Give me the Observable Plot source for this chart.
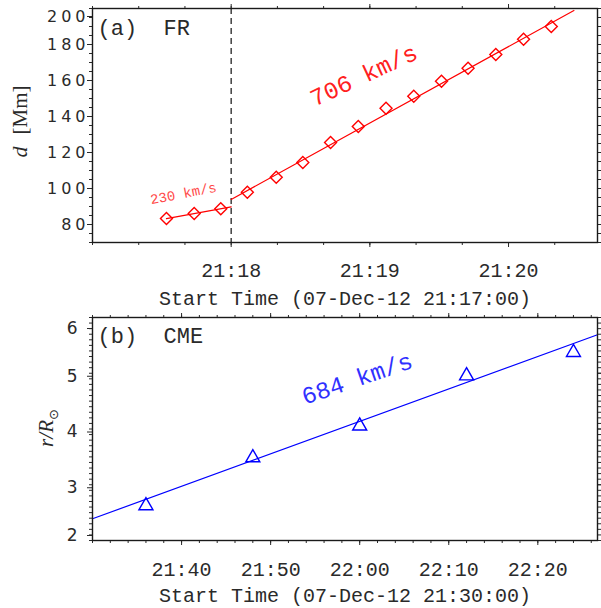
<!DOCTYPE html>
<html><head><meta charset="utf-8">
<script src="https://cdn.jsdelivr.net/npm/d3@7"></script>
<script src="https://cdn.jsdelivr.net/npm/@observablehq/plot@0.6"></script>
<style>
body{margin:0;background:#fff;}
#chart{width:601px;}
#chart svg{display:block;overflow:visible;}
g[aria-label="y-axis tick label"] text{letter-spacing:4px;}
</style></head><body><div id="chart"></div>
<script>
// ---- Panel (a): flux rope height, seconds after 21:17:00 ----
const frTime = [32, 44, 55.5, 67, 79.5, 91, 103, 115, 127, 139, 151, 162.5, 174.5, 186.5, 198.5];
const frDist = [83.3, 86.1, 88.7, 97.9, 106.3, 114.4, 125.6, 134.4, 144.6, 151.3, 159.6, 166.8, 174.4, 182.9, 190.0];
const frSlowFitTime = [32, 60];
const frSlowFitDist = [83.3, 89.8];
const frFastFitTime = [60, 208.3];
const frFastFitDist = [93.9, 198.9];
const frOnsetTime = [60];
const frTickTimes = [60, 120, 180];
const frTickLabels = ["21:18", "21:19", "21:20"];
const frYTicks = [80, 100, 120, 140, 160, 180];
const frYTopTick = [200];

// ---- Panel (b): CME height, minutes after 21:30:00 ----
const cmeTime = [6, 18, 30, 42, 54];
const cmeR = [2.66, 3.52, 4.09, 4.99, 5.41];
const cmeFitTime = [0, 56.7];
const cmeFitR = [2.39, 5.69];
const cmeTickTimes = [10, 20, 30, 40, 50];
const cmeTickLabels = ["21:40", "21:50", "22:00", "22:10", "22:20"];
const cmeYTicks = [3, 4, 5];

// ---- texts ----
const speedLabels = ["230 km/s", "706 km/s", "684 km/s"];
const panelLabels = ["(a)  FR", "(b)  CME"];
const xTitles = ["Start Time (07-Dec-12 21:17:00)", "Start Time (07-Dec-12 21:30:00)"];
const yTitleA = "d [Mm]";
const yTitleB = "r/R⊙";

const ink = "#2a2a2a";
const mono = "'Liberation Mono','Courier New',monospace";
const serif = "'Liberation Serif','DejaVu Serif',serif";
const sans = "'DejaVu Sans',sans-serif";

const zip = (xs, ys) => xs.map((x, i) => ({x, y: ys[i]}));
const blank = () => "";
const intFmt = d => String(d);

function frameTicks(xMajor, xMinor, yMajor, yMinor) {
  return [
    Plot.axisX({anchor: "bottom", ticks: xMinor, tickSize: 3, tickFormat: blank, label: null, stroke: ink}),
    Plot.axisX({anchor: "top", ticks: xMinor, tickSize: 3, tickFormat: blank, label: null, stroke: ink}),
    Plot.axisX({anchor: "top", ticks: xMajor, tickSize: 5, tickFormat: blank, label: null, stroke: ink}),
    Plot.axisY({anchor: "left", ticks: yMinor, tickSize: 3, tickFormat: blank, label: null, stroke: ink}),
    Plot.axisY({anchor: "right", ticks: yMinor, tickSize: 3, tickFormat: blank, label: null, stroke: ink}),
    Plot.axisY({anchor: "right", ticks: yMajor, tickSize: 5, tickFormat: blank, label: null, stroke: ink}),
  ];
}

// ---------- Panel (a) ----------
const topPlot = Plot.plot({
  width: 601, height: 310,
  marginLeft: 92, marginRight: 4, marginTop: 8, marginBottom: 68,
  style: {background: "transparent", color: ink, fontFamily: mono, fontSize: "20px", overflow: "visible"},
  x: {domain: [0, 218.5], label: null},
  y: {domain: [70, 200], label: null},
  marks: [
    ...frameTicks(frTickTimes, d3.range(0, 219, 20), frYTicks.concat(frYTopTick), d3.range(70, 200.1, 5)),
    Plot.axisX({anchor: "bottom", ticks: frTickTimes, tickSize: 5, tickPadding: 15,
      tickFormat: d => frTickLabels[frTickTimes.indexOf(d)], label: null, stroke: ink, fill: ink,
      fontFamily: mono, fontSize: 20}),
    Plot.axisY({anchor: "left", ticks: frYTicks, tickSize: 5, tickPadding: -2, tickFormat: intFmt, label: null,
      stroke: ink, fill: ink, fontFamily: sans, fontSize: 16}),
    Plot.axisY({anchor: "left", ticks: frYTopTick, tickSize: 5, tickPadding: -2, dy: 8, tickFormat: intFmt, label: null,
      stroke: ink, fill: ink, fontFamily: sans, fontSize: 16}),
    Plot.ruleX(frOnsetTime, {stroke: "#333", strokeWidth: 1.4, strokeDasharray: "6,4"}),
    Plot.line(zip(frSlowFitTime, frSlowFitDist), {x: "x", y: "y", stroke: "#ff0000", strokeWidth: 1.2}),
    Plot.line(zip(frFastFitTime, frFastFitDist), {x: "x", y: "y", stroke: "#ff0000", strokeWidth: 1.2}),
    Plot.dot(zip(frTime, frDist), {x: "x", y: "y", symbol: "diamond2", r: 5.4,
      stroke: "#ff0000", strokeWidth: 1.4, fill: "none"}),
    Plot.text([speedLabels[0]], {x: 39.3, y: 97.2, text: d => d, rotate: -11,
      fill: "#ff4a4a", fontFamily: mono, fontSize: 14}),
    Plot.text([speedLabels[1]], {x: 117.4, y: 162.8, text: d => d, rotate: -25,
      fill: "#ff2020", fontFamily: mono, fontSize: 24}),
    Plot.text([panelLabels[0]], {frameAnchor: "top-left", dx: 5, dy: 19, lineAnchor: "middle",
      text: d => d, fill: ink, fontFamily: mono, fontSize: 22, textAnchor: "start"}),
    Plot.text([xTitles[0]], {frameAnchor: "bottom", dy: 56, lineAnchor: "middle",
      text: d => d, fill: ink, fontFamily: mono, fontSize: 20}),
    Plot.text([yTitleA], {frameAnchor: "left", dx: -72, dy: -4, rotate: -90, lineAnchor: "middle",
      textAnchor: "middle", text: d => d, fill: ink, fontFamily: serif, fontSize: 19}),
    Plot.frame({stroke: "#1a1a1a", strokeWidth: 1.4}),
  ]
});

// ---------- Panel (b) ----------
const botPlot = Plot.plot({
  width: 601, height: 298,
  marginLeft: 92, marginRight: 4, marginTop: 7, marginBottom: 68,
  style: {background: "transparent", color: ink, fontFamily: mono, fontSize: "20px", overflow: "visible"},
  x: {domain: [0, 56.7], label: null},
  y: {domain: [2, 6], label: null},
  marks: [
    ...frameTicks(cmeTickTimes, d3.range(0, 56.7, 2), [2, 3, 4, 5, 6], d3.range(2, 6.001, 0.1)),
    Plot.axisX({anchor: "bottom", ticks: cmeTickTimes, tickSize: 5, tickPadding: 16,
      tickFormat: d => cmeTickLabels[cmeTickTimes.indexOf(d)], label: null, stroke: ink, fill: ink,
      fontFamily: mono, fontSize: 20}),
    Plot.axisY({anchor: "left", ticks: cmeYTicks, tickSize: 5, tickPadding: 6, dy: 3, tickFormat: intFmt, label: null,
      stroke: ink, fill: ink, fontFamily: sans, fontSize: 17}),
    Plot.axisY({anchor: "left", ticks: [6], tickSize: 5, tickPadding: 6, dy: 11, tickFormat: intFmt, label: null,
      stroke: ink, fill: ink, fontFamily: sans, fontSize: 17}),
    Plot.axisY({anchor: "left", ticks: [2], tickSize: 5, tickPadding: 6, dy: -5, tickFormat: intFmt, label: null,
      stroke: ink, fill: ink, fontFamily: sans, fontSize: 17}),
    Plot.line(zip(cmeFitTime, cmeFitR), {x: "x", y: "y", stroke: "#0000ff", strokeWidth: 1.2}),
    Plot.dot(zip(cmeTime, cmeR), {x: "x", y: "y", symbol: "triangle", r: 5.2, dy: 2,
      stroke: "#0000ff", strokeWidth: 1.4, fill: "none"}),
    Plot.text([speedLabels[2]], {x: 29.7, y: 4.9, text: d => d, rotate: -19,
      fill: "#3030ff", fontFamily: mono, fontSize: 24}),
    Plot.text([panelLabels[1]], {frameAnchor: "top-left", dx: 5, dy: 18, lineAnchor: "middle",
      text: d => d, fill: ink, fontFamily: mono, fontSize: 22, textAnchor: "start"}),
    Plot.text([xTitles[1]], {frameAnchor: "bottom", dy: 55, lineAnchor: "middle",
      text: d => d, fill: ink, fontFamily: mono, fontSize: 20}),
    Plot.text([yTitleB], {frameAnchor: "left", dx: -46, dy: -1, rotate: -90, lineAnchor: "middle",
      textAnchor: "middle", text: d => d, fill: ink, fontFamily: serif, fontSize: 21}),
    Plot.frame({stroke: "#1a1a1a", strokeWidth: 1.4}),
  ]
});

// rich formatting of the y titles (italic symbols, subscript ⊙)
function richTitle(svg, content, parts) {
  d3.select(svg).selectAll("text").filter(function() { return this.textContent === content; })
    .each(function() {
      const t = d3.select(this);
      t.text(null);
      parts.forEach(p => {
        const s = t.append("tspan").text(p.text);
        Object.entries(p.attrs || {}).forEach(([k, v]) => s.attr(k, v));
        Object.entries(p.css || {}).forEach(([k, v]) => s.style(k, v));
      });
    });
}
richTitle(topPlot, yTitleA, [
  {text: "d", css: {"font-style": "italic", "font-size": "22px"}},
  {text: "[Mm]", attrs: {"dx": 12}, css: {"font-size": "21px", "font-family": serif}}
]);
richTitle(botPlot, yTitleB, [
  {text: "r/R", css: {"font-style": "italic", "font-size": "21px"}},
  {text: "⊙", attrs: {"dy": 5}, css: {"font-size": "13px", "font-family": sans}}
]);

const chart = document.getElementById("chart");
chart.appendChild(topPlot);
chart.appendChild(botPlot);
</script>
</body></html>
